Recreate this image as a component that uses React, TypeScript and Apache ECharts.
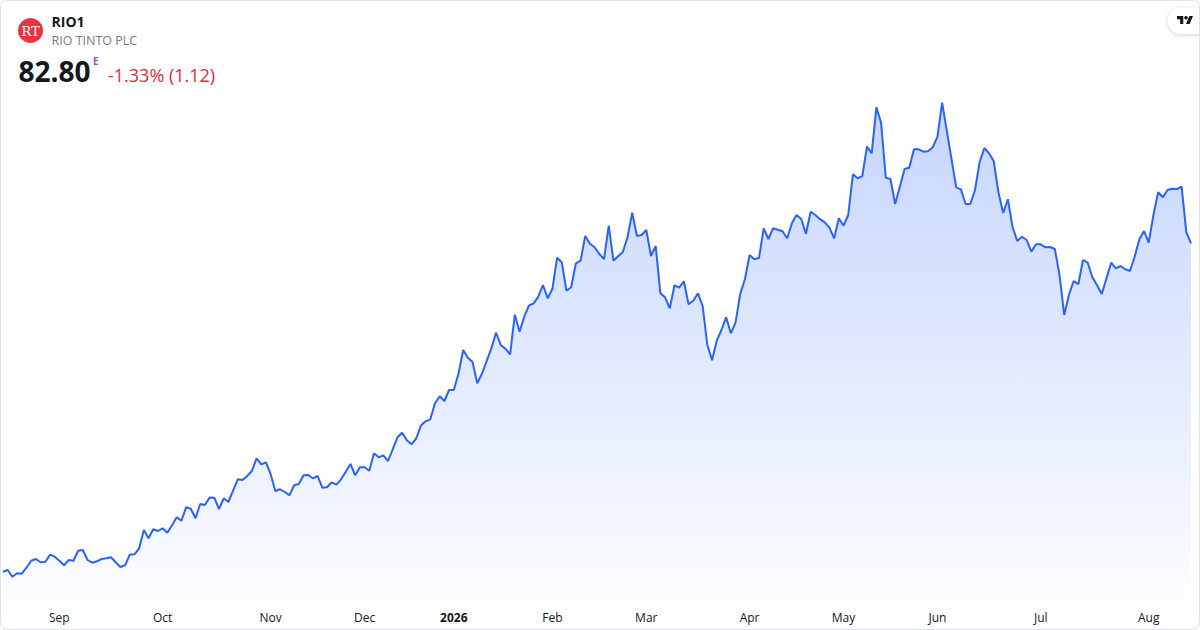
import React, { useEffect, useRef } from "react";
import * as echarts from "echarts";

const START_DATE = "2025-08-14";
const END_DATE = "2026-08-14";
const HOLIDAYS = ["2025-12-24", "2025-12-25", "2025-12-26", "2025-12-31", "2026-01-01", "2026-04-03", "2026-04-06", "2026-05-01"];
const MONTHS = ["Jan", "Feb", "Mar", "Apr", "May", "Jun", "Jul", "Aug", "Sep", "Oct", "Nov", "Dec"];

const prices = [
  49.96, 50.13, 49.46, 49.80, 49.76, 50.36, 51.06, 51.23, 50.90, 50.93,
  51.66, 51.46, 51.06, 50.60, 51.13, 51.06, 52.06, 52.13, 51.13, 50.86,
  51.00, 51.23, 51.30, 51.40, 50.90, 50.43, 50.60, 51.66, 51.70, 52.30,
  54.13, 53.30, 54.20, 54.03, 54.30, 53.86, 54.60, 55.40, 55.06, 56.40,
  56.26, 55.30, 56.73, 56.63, 57.38, 57.36, 56.23, 57.30, 56.93, 58.06,
  59.20, 59.13, 59.53, 60.03, 61.30, 60.70, 60.90, 59.71, 58.03, 58.20,
  57.93, 57.60, 58.60, 58.73, 59.60, 59.63, 59.30, 59.53, 58.36, 58.40,
  58.90, 58.66, 59.20, 59.96, 60.73, 59.60, 60.40, 60.40, 60.06, 61.80,
  61.40, 61.60, 61.03, 62.20, 63.40, 63.86, 63.10, 62.70, 63.28, 64.57,
  65.00, 65.20, 66.80, 67.50, 67.03, 68.13, 68.13, 69.76, 72.13, 71.36,
  70.93, 68.80, 69.75, 71.03, 72.30, 73.86, 72.63, 72.26, 71.70, 75.66,
  73.96, 75.46, 76.56, 76.80, 77.46, 78.63, 77.30, 78.23, 81.36, 80.90,
  78.06, 78.40, 80.80, 81.06, 83.53, 82.76, 82.40, 81.73, 81.23, 84.56,
  81.06, 81.50, 81.93, 83.40, 85.86, 83.53, 83.63, 84.13, 81.53, 82.53,
  77.80, 77.40, 76.30, 78.60, 78.36, 79.00, 76.70, 77.06, 77.80, 76.53,
  72.63, 71.10, 73.06, 74.13, 75.40, 73.80, 74.86, 77.73, 79.20, 81.63,
  81.20, 81.33, 84.30, 83.23, 84.30, 84.16, 84.00, 83.30, 84.80, 85.63,
  85.23, 83.76, 85.96, 85.63, 85.21, 84.90, 84.36, 83.30, 85.30, 84.56,
  85.63, 89.70, 89.30, 89.53, 92.46, 91.80, 96.40, 94.86, 89.36, 89.23,
  86.73, 88.46, 90.23, 90.36, 92.20, 92.20, 91.96, 92.00, 92.40, 93.46,
  96.86, 94.04, 91.22, 88.40, 88.20, 86.73, 86.73, 88.13, 90.96, 92.33,
  91.80, 91.00, 87.88, 85.83, 87.21, 84.43, 83.03, 83.46, 83.13, 81.96,
  82.70, 82.70, 82.40, 82.43, 82.23, 79.63, 75.63, 77.63, 79.03, 78.70,
  81.13, 80.86, 79.40, 78.60, 77.73, 79.30, 80.86, 80.30, 80.53, 80.20,
  80.03, 81.46, 83.20, 84.03, 82.86, 85.63, 87.90, 87.40, 88.13, 88.26,
  88.23, 88.46, 83.92, 82.80,
];

const SYMBOL = "RIO1";
const COMPANY = "RIO TINTO PLC";
const LAST_PRICE = "82.80";
const CHANGE_TEXT = "-1.33% (1.12)";

function tradingDays(start: string, end: string): string[] {
  const out: string[] = [];
  const d = new Date(start + "T00:00:00Z");
  const e = new Date(end + "T00:00:00Z");
  while (d.getTime() <= e.getTime()) {
    const wd = d.getUTCDay();
    const s = d.toISOString().slice(0, 10);
    if (wd !== 0 && wd !== 6 && HOLIDAYS.indexOf(s) < 0) out.push(s);
    d.setUTCDate(d.getUTCDate() + 1);
  }
  return out;
}

const dates = tradingDays(START_DATE, END_DATE).slice(0, prices.length);

echarts.graphic.registerShape(
  "tvlogo",
  echarts.graphic.extendPath("M14 22H7V11H0V4h14v18zM28 22h-8l7.5-18h8L28 22z", {})
);

const FONT = "'Open Sans', 'Noto Sans', sans-serif";

export default function App() {
  const ref = useRef<HTMLDivElement>(null);
  useEffect(() => {
    document.body.style.margin = "0";
    const chart = echarts.init(ref.current!, null, { renderer: "svg" });
    chart.setOption({
      animation: false,
      backgroundColor: "#ffffff",
      grid: { left: 3, right: 9, top: 101.3, bottom: 28.7 },
      xAxis: {
        type: "category",
        data: dates,
        boundaryGap: false,
        axisLine: { show: false },
        axisTick: { show: false },
        splitLine: { show: false },
        axisLabel: {
          margin: 10,
          color: "#131722",
          fontSize: 12,
          fontFamily: FONT,
          interval: (index: number, value: string) => {
            if (index === 0) return false;
            return value.slice(5, 7) !== dates[index - 1].slice(5, 7);
          },
          formatter: (value: string) => {
            const m = parseInt(value.slice(5, 7), 10) - 1;
            if (m === 0) return "{y|" + value.slice(0, 4) + "}";
            return MONTHS[m];
          },
          rich: {
            y: { fontWeight: "bold", fontSize: 12, color: "#131722", fontFamily: FONT },
          },
        },
      },
      yAxis: {
        type: "value",
        show: false,
        min: 47,
        max: 97,
        splitLine: { show: false },
      },
      series: [
        {
          type: "line",
          data: prices,
          symbol: "none",
          lineStyle: { color: "#2962ff", width: 2 },
          areaStyle: {
            color: new echarts.graphic.LinearGradient(0, 0, 0, 1, [
              { offset: 0, color: "rgba(41,98,255,0.38)" },
              { offset: 1, color: "rgba(41,98,255,0.02)" },
            ]),
          },
        },
      ],
      graphic: [
        {
          type: "rect",
          shape: { x: 0.5, y: 0.5, width: 1199, height: 629, r: 6 },
          style: { fill: "none", stroke: "#e0e3eb", lineWidth: 1 },
          silent: true,
          z: 100,
        },
        {
          type: "circle",
          shape: { cx: 30.5, cy: 30.5, r: 12.5 },
          style: { fill: "#eb3340" },
        },
        {
          type: "text",
          x: 30.5,
          y: 31,
          style: {
            text: "RT",
            fill: "#ffffff",
            font: "13px 'DejaVu Serif', 'Liberation Serif', serif",
            align: "center",
            verticalAlign: "middle",
          },
        },
        {
          type: "text",
          x: 51.5,
          y: 21,
          style: {
            text: SYMBOL,
            fill: "#131722",
            font: "bold 14px " + FONT,
            verticalAlign: "middle",
          },
        },
        {
          type: "text",
          x: 51.5,
          y: 40.5,
          style: {
            text: COMPANY,
            fill: "#787b86",
            font: "12.5px " + FONT,
            verticalAlign: "middle",
          },
        },
        {
          type: "text",
          x: 18.5,
          y: 71,
          style: {
            text: LAST_PRICE,
            fill: "#131722",
            font: "bold 28px " + FONT,
            verticalAlign: "middle",
          },
        },
        {
          type: "text",
          x: 93,
          y: 61,
          style: {
            text: "E",
            fill: "#a24bbd",
            font: "bold 10px " + FONT,
            verticalAlign: "middle",
          },
        },
        {
          type: "text",
          x: 108,
          y: 75,
          style: {
            text: CHANGE_TEXT,
            fill: "#dc2c40",
            font: "18px " + FONT,
            verticalAlign: "middle",
          },
        },
        {
          type: "rect",
          shape: { x: 1168, y: 8, width: 44, height: 26, r: 13 },
          style: { fill: "#ffffff", shadowBlur: 5, shadowColor: "rgba(0,0,0,0.18)", shadowOffsetY: 1 },
        },
        {
          type: "tvlogo",
          x: 1177,
          y: 14.2,
          scaleX: 0.45,
          scaleY: 0.45,
          style: { fill: "#131722" },
        },
        {
          type: "circle",
          shape: { cx: 1177 + 20 * 0.45, cy: 14.2 + 8 * 0.45, r: 4 * 0.45 },
          style: { fill: "#131722" },
        },
      ],
    });
    return () => chart.dispose();
  }, []);
  return (
    <div
      ref={ref}
      style={{ position: "absolute", left: 0, top: 0, width: 1200, height: 630 }}
    />
  );
}
